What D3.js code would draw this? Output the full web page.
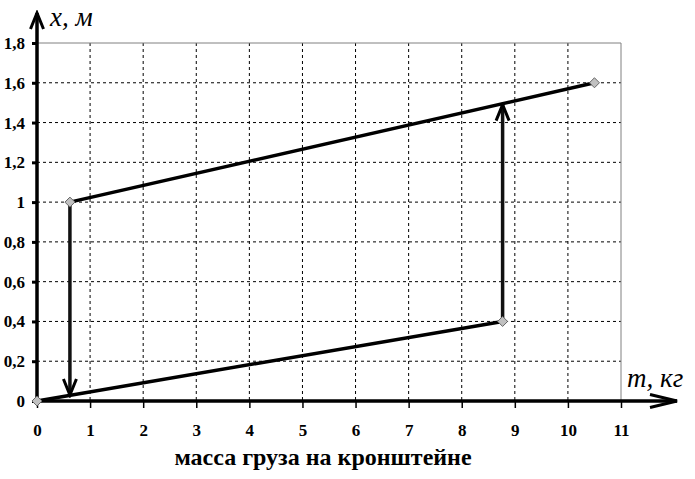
<!DOCTYPE html>
<html>
<head>
<meta charset="utf-8">
<script src="https://cdn.jsdelivr.net/npm/d3@7"></script>
<style>
  body { margin: 0; background: #fff; }
  svg { display: block; }
</style>
</head>
<body>
<div id="chart"></div>
<script>
// data
const xTicks = [0, 1, 2, 3, 4, 5, 6, 7, 8, 9, 10, 11];
const yTicks = [0, 0.2, 0.4, 0.6, 0.8, 1, 1.2, 1.4, 1.6, 1.8];
const lowerBranch = [[0, 0], [8.77, 0.4]];
const upperBranch = [[0.62, 1.0], [10.5, 1.6]];
const markerPoints = [[0, 0], [0.62, 1.0], [8.77, 0.4], [10.5, 1.6]];
const jumps = [
    { from: [0.62, 1.0], to: [0.62, 0.03] },
    { from: [8.77, 0.4], to: [8.77, 1.49] }
];
const xName = "m, кг";
const yName = "x, м";
const caption = "масса груза на кронштейне";

const serif = "'Liberation Serif', 'Times New Roman', serif";

const width = 695, height = 479;
const margin = { left: 37, top: 43, right: 74, bottom: 78 };
const innerW = width - margin.left - margin.right;
const innerH = height - margin.top - margin.bottom;

const xScale = d3.scaleLinear().domain([0, 11]).range([0, innerW]);
const yScale = d3.scaleLinear().domain([0, 1.8]).range([innerH, 0]);

const svg = d3.select("#chart").append("svg")
    .attr("width", width)
    .attr("height", height);

// open chevron arrowheads: short one for the jumps and y axis, long one for x axis
const defs = svg.append("defs");
function chevron(id, len, half) {
    defs.append("marker")
        .attr("id", id)
        .attr("viewBox", `0 0 ${len + 4} ${half * 2 + 4}`)
        .attr("refX", len + 1).attr("refY", half + 2)
        .attr("markerWidth", len + 4).attr("markerHeight", half * 2 + 4)
        .attr("markerUnits", "userSpaceOnUse")
        .attr("orient", "auto")
        .append("path")
        .attr("d", `M2,2 L${len + 1},${half + 2} L2,${half * 2 + 2}`)
        .attr("fill", "none")
        .attr("stroke", "#000")
        .attr("stroke-width", 3);
}
chevron("chev", 17, 6.5);
chevron("chevLong", 28, 6.5);

const g = svg.append("g")
    .attr("transform", `translate(${margin.left},${margin.top})`);

// dashed grid
g.append("g")
    .selectAll("line")
    .data(xTicks.filter(d => d > 0 && d < 11))
    .join("line")
    .attr("x1", d => xScale(d)).attr("x2", d => xScale(d))
    .attr("y1", 0).attr("y2", innerH)
    .attr("stroke", "#000").attr("stroke-width", 1)
    .attr("stroke-dasharray", "3,3");

g.append("g")
    .selectAll("line")
    .data(yTicks.filter(d => d > 0 && d < 1.8))
    .join("line")
    .attr("x1", 0).attr("x2", innerW)
    .attr("y1", d => yScale(d)).attr("y2", d => yScale(d))
    .attr("stroke", "#000").attr("stroke-width", 1)
    .attr("stroke-dasharray", "3,3");

// grey frame at top and right
g.append("line")
    .attr("x1", 0).attr("x2", innerW)
    .attr("y1", yScale(1.8)).attr("y2", yScale(1.8))
    .attr("stroke", "#808080");
g.append("line")
    .attr("x1", xScale(11)).attr("x2", xScale(11))
    .attr("y1", 0).attr("y2", innerH)
    .attr("stroke", "#808080");

// x axis
const xAxis = g.append("g")
    .attr("transform", `translate(0,${innerH})`)
    .call(d3.axisBottom(xScale).tickValues(xTicks).tickSize(7).tickPadding(16).tickFormat(d3.format("d")));
xAxis.select(".domain").remove();
xAxis.selectAll(".tick line").attr("stroke", "#000").attr("stroke-width", 1.5);
xAxis.selectAll(".tick text")
    .attr("fill", "#000")
    .style("font-family", serif)
    .style("font-weight", "bold")
    .style("font-size", "17px");

// y axis
const commaFmt = d => String(d).replace(".", ",");
const yAxis = g.append("g")
    .call(d3.axisLeft(yScale).tickValues(yTicks).tickSize(5).tickPadding(7).tickFormat(commaFmt));
yAxis.select(".domain").remove();
yAxis.selectAll(".tick line").attr("stroke", "#000").attr("stroke-width", 3);
yAxis.selectAll(".tick text")
    .attr("fill", "#000")
    .style("font-family", serif)
    .style("font-weight", "bold")
    .style("font-size", "17px");

// axis lines with arrows
g.append("line")
    .attr("x1", 0).attr("y1", innerH)
    .attr("x2", innerW + 56).attr("y2", innerH)
    .attr("stroke", "#000").attr("stroke-width", 3.5)
    .attr("marker-end", "url(#chevLong)");
g.append("line")
    .attr("x1", 0).attr("y1", innerH + 2)
    .attr("x2", 0).attr("y2", -30)
    .attr("stroke", "#000").attr("stroke-width", 3.5)
    .attr("marker-end", "url(#chev)");

// branches
const line = d3.line().x(d => xScale(d[0])).y(d => yScale(d[1]));
[lowerBranch, upperBranch].forEach(b => {
    g.append("path")
        .attr("d", line(b))
        .attr("fill", "none")
        .attr("stroke", "#000")
        .attr("stroke-width", 3.5);
});

// jump arrows
g.selectAll(".jump")
    .data(jumps)
    .join("line")
    .attr("class", "jump")
    .attr("x1", d => xScale(d.from[0])).attr("y1", d => yScale(d.from[1]))
    .attr("x2", d => xScale(d.to[0])).attr("y2", d => yScale(d.to[1]))
    .attr("stroke", "#111").attr("stroke-width", 3.5)
    .attr("marker-end", "url(#chev)");

// diamond markers
g.selectAll(".pt")
    .data(markerPoints)
    .join("path")
    .attr("class", "pt")
    .attr("d", d3.symbol(d3.symbolDiamond2, 64))
    .attr("transform", d => `translate(${xScale(d[0])},${yScale(d[1])})`)
    .attr("fill", "#c0c0c0")
    .attr("stroke", "#666")
    .attr("stroke-width", 1);

// axis names
svg.append("text")
    .attr("x", 50).attr("y", 26)
    .style("font-family", serif)
    .style("font-style", "italic")
    .style("font-size", "27px")
    .text(yName);
svg.append("text")
    .attr("x", 627).attr("y", 387)
    .style("font-family", serif)
    .style("font-style", "italic")
    .style("font-size", "27px")
    .text(xName);

// caption
svg.append("text")
    .attr("x", 323).attr("y", 465)
    .attr("text-anchor", "middle")
    .style("font-family", serif)
    .style("font-weight", "bold")
    .style("font-size", "24px")
    .text(caption);
</script>
</body>
</html>
